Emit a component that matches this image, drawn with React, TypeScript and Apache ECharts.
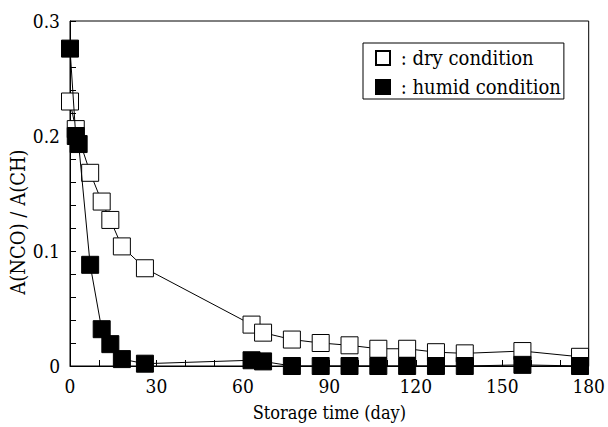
import React, { useEffect, useRef } from "react";
import * as echarts from "echarts";

const dryDays = [0, 2, 7, 11, 14, 18, 26, 63, 67, 77, 87, 97, 107, 117, 127, 137, 157, 177];
const dryValues = [0.23, 0.206, 0.168, 0.143, 0.127, 0.104, 0.085, 0.036, 0.029, 0.023, 0.02, 0.018, 0.015, 0.015, 0.012, 0.011, 0.013, 0.008];

const humidDays = [0, 2, 3, 7, 11, 14, 18, 26, 63, 67, 77, 87, 97, 107, 117, 127, 137, 157, 177];
const humidValues = [0.276, 0.2, 0.193, 0.088, 0.032, 0.019, 0.006, 0.002, 0.005, 0.004, 0, 0, 0, 0, 0, 0, 0, 0.001, 0];

const xTicks = [0, 30, 60, 90, 120, 150, 180];
const yTicks = [0, 0.1, 0.2, 0.3];

const seriesNames = ["dry condition", "humid condition"];
const FONT = "DejaVu Serif Condensed";

export default function App() {
  const ref = useRef<HTMLDivElement>(null);
  useEffect(() => {
    if (!ref.current) return;
    const chart = echarts.init(ref.current, null, { renderer: "svg" });
    const pair = (xs: number[], ys: number[]) => xs.map((x, i) => [x, ys[i]]);
    chart.setOption({
      animation: false,
      backgroundColor: "#fff",
      textStyle: { fontFamily: FONT },
      grid: {
        left: 70,
        top: 21,
        right: 17,
        bottom: 61,
        show: true,
        borderColor: "#000",
        borderWidth: 1,
        backgroundColor: "transparent",
      },
      xAxis: {
        type: "value",
        min: xTicks[0],
        max: xTicks[xTicks.length - 1],
        interval: 30,
        name: "Storage time (day)",
        nameLocation: "middle",
        nameGap: 37,
        nameTextStyle: { fontFamily: FONT, fontSize: 18, color: "#000" },
        axisLine: { lineStyle: { color: "#000", width: 1 } },
        axisTick: { inside: true, length: 6, lineStyle: { color: "#000" } },
        minorTick: { show: true, splitNumber: 3, length: 6, lineStyle: { color: "#000" } },
        splitLine: { show: false },
        axisLabel: { fontFamily: FONT, fontSize: 19, color: "#000", margin: 10 },
      },
      yAxis: {
        type: "value",
        min: yTicks[0],
        max: yTicks[yTicks.length - 1],
        interval: 0.1,
        axisLine: { show: true, lineStyle: { color: "#000", width: 1 } },
        axisTick: { inside: true, length: 6, lineStyle: { color: "#000" } },
        minorTick: { show: true, splitNumber: 5, length: 6, lineStyle: { color: "#000" } },
        splitLine: { show: false },
        axisLabel: {
          fontFamily: FONT,
          fontSize: 19,
          color: "#000",
          margin: 10,
          formatter: (v: number) => (v === 0 ? "0" : v.toFixed(1)),
        },
      },
      legend: {
        orient: "vertical",
        left: 363,
        top: 43,
        padding: [5, 3, 2, 12],
        itemWidth: 14,
        itemHeight: 14,
        itemGap: 9,
        icon: "rect",
        borderColor: "#000",
        borderWidth: 1,
        data: seriesNames,
        formatter: (name: string) => " : " + name,
        textStyle: { fontFamily: FONT, fontSize: 20, color: "#000" },
      },
      graphic: [
        {
          type: "text",
          x: 18,
          y: 222,
          rotation: Math.PI / 2,
          style: {
            text: "A(NCO) / A(CH)",
            fontFamily: FONT,
            fontSize: 20,
            fill: "#000",
            align: "center",
            verticalAlign: "middle",
          },
        },
      ],
      series: [
        {
          name: seriesNames[0],
          type: "line",
          data: pair(dryDays, dryValues),
          symbol: "rect",
          symbolSize: 17,
          lineStyle: { color: "#000", width: 1 },
          itemStyle: { color: "#fff", borderColor: "#000", borderWidth: 1 },
          z: 2,
        },
        {
          name: seriesNames[1],
          type: "line",
          data: pair(humidDays, humidValues),
          symbol: "rect",
          symbolSize: 17,
          lineStyle: { color: "#000", width: 1 },
          itemStyle: { color: "#000", borderColor: "#000", borderWidth: 1 },
          z: 3,
        },
      ],
    });
    return () => chart.dispose();
  }, []);
  return (
    <div
      ref={ref}
      style={{ position: "fixed", left: 0, top: 0, width: 608, height: 427 }}
    />
  );
}
